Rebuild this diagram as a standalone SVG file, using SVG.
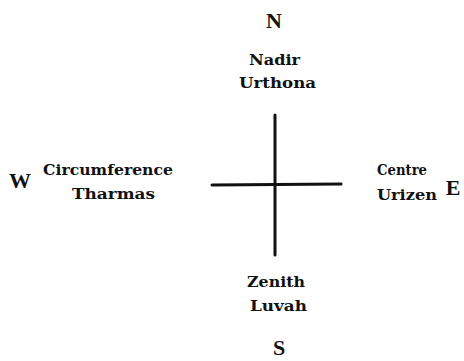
<svg xmlns="http://www.w3.org/2000/svg" width="464" height="361" viewBox="0 0 464 361">
<style>
.lbl{font-family:"DejaVu Serif","Liberation Serif",serif;font-weight:bold;font-size:15px;fill:#111;text-anchor:middle}
.dir{font-family:"Liberation Serif","DejaVu Serif",serif;font-weight:bold;font-size:22px;fill:#111;text-anchor:middle}
.ln{stroke:#111;stroke-width:3;stroke-linecap:round;fill:none}
</style>
<rect width="464" height="361" fill="#fff"/>
<g id="connectors">
<line class="ln" x1="275" y1="115" x2="275" y2="255"/>
<line class="ln" x1="212" y1="185" x2="341" y2="184"/>
</g>
<g id="north"><text class="dir" x="274" y="28">N</text></g>
<g id="south"><text class="dir" x="279" y="355">S</text></g>
<g id="west"><text class="dir" x="20" y="188">W</text></g>
<g id="east"><text class="dir" x="453" y="195">E</text></g>
<g id="nadir">
<text class="lbl" x="274.5" y="65" textLength="51" lengthAdjust="spacingAndGlyphs">Nadir</text>
<text class="lbl" x="277.5" y="88" textLength="77" lengthAdjust="spacingAndGlyphs">Urthona</text>
</g>
<g id="circumference">
<text class="lbl" x="108" y="175" textLength="130" lengthAdjust="spacingAndGlyphs">Circumference</text>
<text class="lbl" x="113.5" y="199" textLength="83" lengthAdjust="spacingAndGlyphs">Tharmas</text>
</g>
<g id="centre">
<text class="lbl" x="402" y="175" textLength="50" lengthAdjust="spacingAndGlyphs">Centre</text>
<text class="lbl" x="407" y="200" textLength="60" lengthAdjust="spacingAndGlyphs">Urizen</text>
</g>
<g id="zenith">
<text class="lbl" x="276" y="287" textLength="58" lengthAdjust="spacingAndGlyphs">Zenith</text>
<text class="lbl" x="278.5" y="311" textLength="57" lengthAdjust="spacingAndGlyphs">Luvah</text>
</g>
</svg>
